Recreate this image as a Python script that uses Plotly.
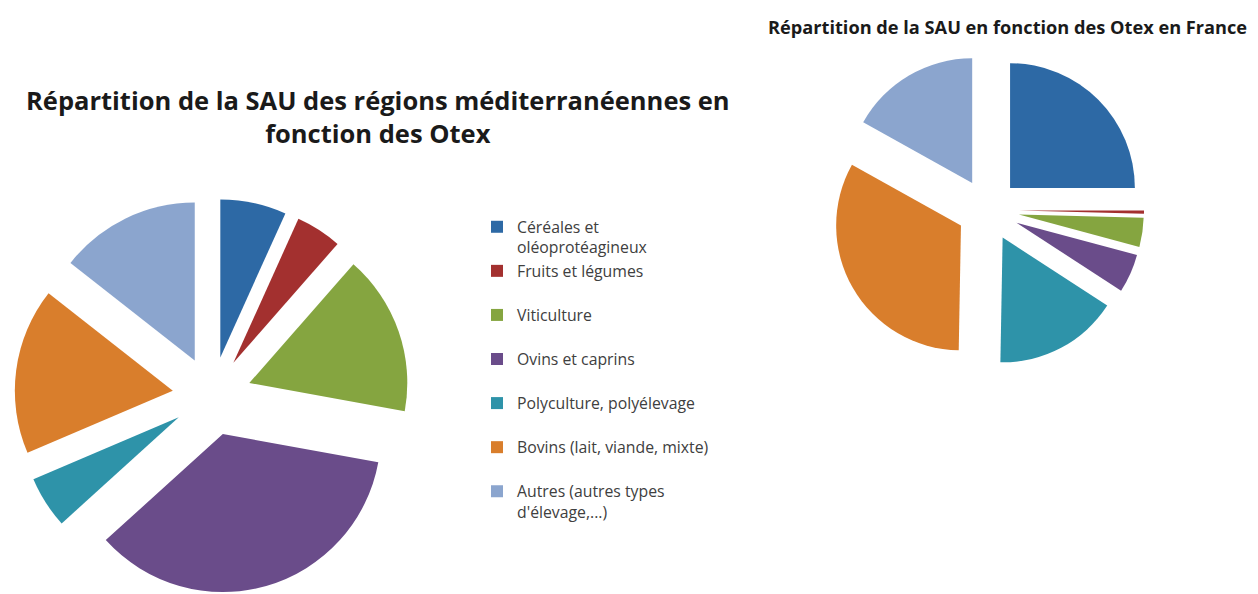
import plotly.graph_objects as go

labels = [
    "Céréales et<br>oléoprotéagineux",
    "Fruits et légumes<br> ",
    "Viticulture<br> ",
    "Ovins et caprins<br> ",
    "Polyculture, polyélevage<br> ",
    "Bovins (lait, viande, mixte)<br> ",
    "Autres (autres types<br>d'élevage,...)",
]
colors = ["#2D69A5", "#A3302F", "#85A540", "#6A4C8A", "#2E93A9", "#D97E2C", "#8BA5CE"]

# Part de la SAU (%)
values_med = [6.75, 4.7, 16.4, 35.4, 5.3, 17.0, 14.4]
values_france = [25.0, 0.42, 3.75, 5.0, 16.1, 32.8, 16.9]

title_med = "Répartition de la SAU des régions méditerranéennes en<br>fonction des Otex"
title_fr = "Répartition de la SAU en fonction des Otex en France"

# page body has an 8px margin: figure is sized to fill the rest of the window
OFF = 8
W, H = 1258 - OFF, 594 - OFF


def px(x):
    return (x - OFF) / W


def py(y):
    return 1 - (y - OFF) / H


fig = go.Figure()
common = dict(
    labels=labels,
    sort=False,
    direction="clockwise",
    rotation=0,
    pull=0.25,
    textinfo="none",
    hoverinfo="label+percent",
    marker=dict(colors=colors, line=dict(width=0)),
)
fig.add_trace(go.Pie(values=values_med,
                     domain=dict(x=[px(14.5), px(409.5)], y=[py(593.5), py(198.5)]), **common))
fig.add_trace(go.Pie(values=values_france,
                     domain=dict(x=[px(832), px(1144)], y=[py(366), py(54)]),
                     showlegend=False, **common))

fig.update_layout(
    width=W, height=H,
    margin=dict(l=0, r=0, t=0, b=0),
    paper_bgcolor="white",
    plot_bgcolor="white",
    font=dict(family="Open Sans, sans-serif", color="#404040"),
    showlegend=True,
    legend=dict(
        x=px(477), y=py(210), xanchor="left", yanchor="top",
        font=dict(size=15.8, color="#404040", family="Open Sans, sans-serif"),
        valign="top",
        traceorder="normal",
        bgcolor="rgba(0,0,0,0)",
    ),
    annotations=[
        dict(text="<b>" + title_med + "</b>", x=px(378), y=py(116.5), xref="paper", yref="paper",
             showarrow=False, xanchor="center", yanchor="middle",
             font=dict(size=25.5, color="#1a1a1a", family="Open Sans, sans-serif")),
        dict(text="<b>" + title_fr + "</b>", x=px(1007), y=py(27), xref="paper", yref="paper",
             showarrow=False, xanchor="center", yanchor="middle",
             font=dict(size=18.2, color="#1a1a1a", family="Open Sans, sans-serif")),
    ],
)

fig.write_html("out.html")
